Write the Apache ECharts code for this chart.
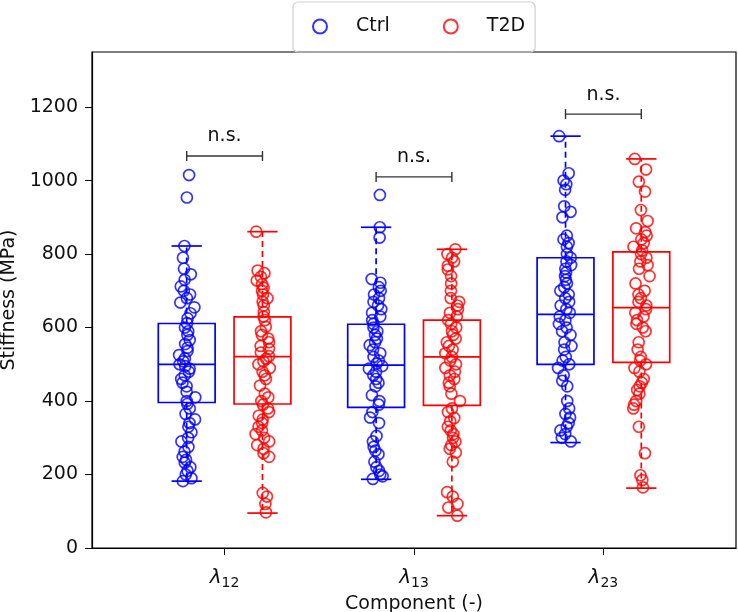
<!DOCTYPE html>
<html>
<head>
<meta charset="UTF-8">
<title>stiffness-boxplot</title>
<script src="https://cdn.jsdelivr.net/npm/echarts@6.0.0/dist/echarts.min.js"></script>
<style type="text/css">
html, body { margin: 0; padding: 0; background: #fff; }
#main { width: 738px; height: 612px; }
</style>
</head>
<body>
<div id="main"></div>
<script type="text/javascript">
// components (subscripts of lambda)
var components = ['12', '13', '23'];

// box stats: [whisker low, Q1, median, Q3, whisker high]
var ctrlBox = [[182, 396, 500, 611, 822], [187, 383, 498, 609, 873], [287, 500, 636, 790, 1121]];
var t2dBox = [[95, 392, 521, 629, 861], [88, 388, 520, 620, 813], [163, 505, 654, 806, 1059]];

// height of the n.s. brackets
var sigY = [1067, 1010, 1181];

// individual samples
var ctrl12 = [1015, 954, 822, 790, 760, 745, 730, 712, 700, 690, 680, 668, 655, 639, 625, 612, 600, 590, 580, 566, 555, 545, 536, 525, 516, 508, 500, 495, 488, 480, 470, 460, 450, 440, 425, 410, 400, 392, 380, 365, 350, 340, 330, 315, 300, 290, 275, 262, 248, 240, 232, 220, 210, 200, 190, 182];
var t2d12 = [861, 755, 748, 738, 728, 718, 708, 700, 690, 680, 670, 660, 642, 630, 620, 602, 590, 580, 570, 560, 550, 542, 532, 522, 515, 508, 500, 490, 480, 470, 460, 442, 420, 410, 400, 390, 380, 370, 360, 350, 340, 330, 320, 310, 300, 290, 280, 270, 258, 248, 150, 140, 120, 97];
var ctrl13 = [961, 873, 845, 732, 722, 710, 700, 690, 680, 670, 660, 650, 640, 630, 620, 610, 600, 590, 580, 570, 560, 552, 540, 530, 520, 510, 502, 495, 488, 480, 470, 460, 450, 440, 416, 400, 390, 370, 355, 340, 305, 290, 275, 265, 255, 235, 220, 210, 200, 195, 188];
var t2d13 = [813, 800, 790, 780, 768, 758, 740, 720, 700, 680, 670, 660, 650, 640, 630, 620, 610, 600, 590, 580, 570, 560, 550, 540, 530, 520, 510, 500, 490, 480, 470, 460, 450, 440, 420, 400, 380, 370, 354, 345, 330, 320, 310, 300, 290, 280, 270, 260, 235, 152, 140, 120, 110, 88];
var ctrl23 = [1121, 1020, 1000, 990, 975, 930, 915, 900, 850, 840, 830, 820, 800, 790, 780, 770, 760, 750, 740, 730, 720, 710, 700, 690, 680, 670, 660, 650, 640, 630, 620, 610, 600, 590, 580, 560, 550, 540, 520, 510, 500, 490, 470, 455, 440, 400, 380, 365, 355, 340, 330, 320, 310, 300, 290];
var t2d23 = [1059, 1030, 997, 970, 920, 890, 870, 860, 850, 840, 830, 820, 810, 800, 790, 780, 770, 760, 740, 720, 700, 690, 680, 670, 660, 650, 640, 630, 620, 610, 600, 590, 560, 540, 520, 510, 500, 490, 480, 460, 450, 440, 430, 420, 400, 390, 380, 330, 258, 198, 185, 165];

var ctrlPts = [ctrl12, ctrl13, ctrl23];
var t2dPts = [t2d12, t2d13, t2d23];

var BLUE = '#0000ff', RED = '#ff0000';
var OFF = 0.2, BOXW = 0.3, CAPW = 0.16;

// small horizontal jitter, only for display
function jit(i, g) {
	var s = Math.sin((i + 1) * 12.9898 + g * 78.233) * 43758.5453;
	var t = Math.sin((i + 3) * 4.1414 + g * 17.77) * 9631.17;
	return ((s - Math.floor(s)) + (t - Math.floor(t)) - 1) * 0.048;
}

function scatterData(groups, side) {
	var out = [];
	for (var g = 0; g < groups.length; g++) {
		for (var i = 0; i < groups[g].length; i++) {
			out.push([g + side + jit(i, g + (side > 0 ? 5 : 0)), groups[g][i]]);
		}
	}
	return out;
}

function boxData(boxes, side) {
	return boxes.map(function (b, g) { return [g + side].concat(b); });
}

function boxRender(color) {
	return function (params, api) {
		var x = api.value(0);
		var lo = api.coord([x, api.value(1)]), q1 = api.coord([x, api.value(2)]);
		var md = api.coord([x, api.value(3)]), q3 = api.coord([x, api.value(4)]);
		var hi = api.coord([x, api.value(5)]);
		var l = api.coord([x - BOXW / 2, 0])[0], r = api.coord([x + BOXW / 2, 0])[0];
		var cl = api.coord([x - CAPW / 2, 0])[0], cr = api.coord([x + CAPW / 2, 0])[0];
		var st = { stroke: color, lineWidth: 1.7, fill: null };
		var dash = { stroke: color, lineWidth: 1.7, lineDash: [6, 4] };
		return {
			type: 'group',
			children: [
				{ type: 'line', shape: { x1: lo[0], y1: q1[1], x2: lo[0], y2: lo[1] }, style: dash },
				{ type: 'line', shape: { x1: hi[0], y1: q3[1], x2: hi[0], y2: hi[1] }, style: dash },
				{ type: 'line', shape: { x1: cl, y1: lo[1], x2: cr, y2: lo[1] }, style: st },
				{ type: 'line', shape: { x1: cl, y1: hi[1], x2: cr, y2: hi[1] }, style: st },
				{ type: 'rect', shape: { x: l, y: q3[1], width: r - l, height: q1[1] - q3[1] }, style: st },
				{ type: 'line', shape: { x1: l, y1: md[1], x2: r, y2: md[1] }, style: st }
			]
		};
	};
}

function sigRender(params, api) {
	var y = api.value(1);
	var a = api.coord([api.value(0) - OFF, y]), b = api.coord([api.value(0) + OFF, y]);
	var st = { stroke: '#333', lineWidth: 1.4 };
	return {
		type: 'group',
		children: [
			{ type: 'line', shape: { x1: a[0], y1: a[1], x2: b[0], y2: b[1] }, style: st },
			{ type: 'line', shape: { x1: a[0], y1: a[1] - 5, x2: a[0], y2: a[1] + 5 }, style: st },
			{ type: 'line', shape: { x1: b[0], y1: b[1] - 5, x2: b[0], y2: b[1] + 5 }, style: st },
			{ type: 'text', x: (a[0] + b[0]) / 2, y: a[1] - 10, style: { text: 'n.s.', fill: '#111', font: '19px "DejaVu Sans"', align: 'center', verticalAlign: 'bottom' } }
		]
	};
}

var font = '"DejaVu Sans"';
var chart = echarts.init(document.getElementById('main'));
var option = {
	animation: false,
	textStyle: { fontFamily: font },
	legend: {
		top: 2, left: 293,
		padding: [15, 10, 16, 19],
		borderColor: '#d0d0d0', borderWidth: 1.2, borderRadius: 5,
		itemWidth: 24, itemHeight: 14, itemGap: 53,
		textStyle: { fontSize: 19, color: '#111', fontFamily: font, padding: [0, 0, 0, 19] },
		data: [
			{ name: 'Ctrl', icon: 'circle', itemStyle: { color: 'transparent', borderColor: BLUE, borderWidth: 2 } },
			{ name: 'T2D', icon: 'circle', itemStyle: { color: 'transparent', borderColor: RED, borderWidth: 2 } }
		]
	},
	grid: { left: 92, right: 2, top: 52, bottom: 64, show: true, borderColor: '#000', borderWidth: 1.2, outerBoundsMode: 'none', containLabel: false },
	xAxis: {
		type: 'value', min: -0.7, max: 2.7,
		name: 'Component (-)', nameLocation: 'middle', nameGap: 42,
		nameTextStyle: { fontSize: 19, color: '#111', fontFamily: font },
		splitLine: { show: false },
		axisLine: { onZero: false, lineStyle: { color: '#000', width: 1.2 } },
		axisTick: { customValues: [0, 1, 2], length: 7, lineStyle: { color: '#000' } },
		axisLabel: {
			customValues: [0, 1, 2], margin: 18,
			formatter: function (v) { return '{l|λ}{s|' + components[Math.round(v)] + '}'; },
			rich: {
				l: { fontSize: 20, fontStyle: 'italic', color: '#111', fontFamily: font },
				s: { fontSize: 14, color: '#111', fontFamily: font, padding: [10, 0, 0, 0] }
			}
		}
	},
	yAxis: {
		type: 'value', min: 0, max: 1350, interval: 200,
		name: 'Stiffness (MPa)', nameLocation: 'middle', nameGap: 72,
		nameTextStyle: { fontSize: 19, color: '#111', fontFamily: font },
		splitLine: { show: false },
		axisLine: { show: true, onZero: false, lineStyle: { color: '#000', width: 1.2 } },
		axisTick: { show: true, length: 7, lineStyle: { color: '#000' } },
		axisLabel: {
			fontSize: 19, color: '#111', margin: 14, fontFamily: font, showMaxLabel: false,
			formatter: function (v) { return String(v); }
		}
	},
	series: [
		{ type: 'custom', name: 'ctrlBox', renderItem: boxRender(BLUE), data: boxData(ctrlBox, -OFF), z: 2, silent: true },
		{ type: 'custom', name: 't2dBox', renderItem: boxRender(RED), data: boxData(t2dBox, OFF), z: 2, silent: true },
		{ type: 'scatter', name: 'Ctrl', data: scatterData(ctrlPts, -OFF), symbolSize: 11, itemStyle: { color: 'transparent', borderColor: BLUE, borderWidth: 1.7 }, z: 3 },
		{ type: 'scatter', name: 'T2D', data: scatterData(t2dPts, OFF), symbolSize: 11, itemStyle: { color: 'transparent', borderColor: RED, borderWidth: 1.7 }, z: 3 },
		{ type: 'custom', name: 'sig', renderItem: sigRender, data: sigY.map(function (y, g) { return [g, y]; }), z: 4, silent: true }
	]
};
chart.setOption(option);
</script>
</body>
</html>
